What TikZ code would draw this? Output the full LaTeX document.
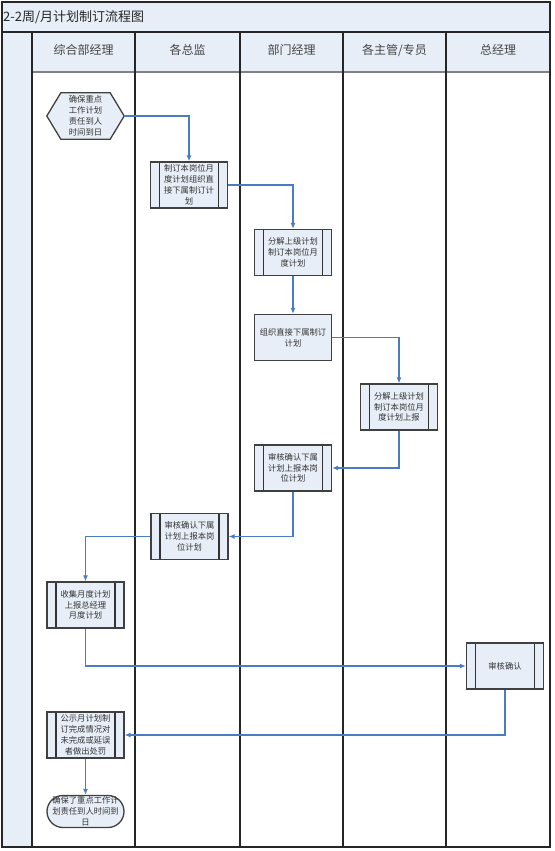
\documentclass[tikz,border=0pt]{standalone}
\usepackage{fontspec}
\newfontfamily\cjk{Noto Sans CJK SC}
\usetikzlibrary{shapes.misc,arrows.meta}
\definecolor{fillb}{HTML}{E8EEF7}
\definecolor{arrowb}{HTML}{4A7CC4}
\definecolor{txt}{HTML}{333333}
\definecolor{hdr}{HTML}{444444}
\tikzset{
  frame/.style={draw=black!85, line width=1.4pt},
  boxbase/.style={draw=black!75, line width=1.3pt, fill=fillb, minimum width=77pt, minimum height=46pt,
    inner sep=0pt, align=center, text=txt, font=\cjk\fontsize{8.3}{10.8}\selectfont},
  ppbox/.style={boxbase, path picture={
      \draw[black!80, line width=1.1pt] ([xshift=9pt]path picture bounding box.north west) -- ([xshift=9pt]path picture bounding box.south west);
      \draw[black!80, line width=1.1pt] ([xshift=-9pt]path picture bounding box.north east) -- ([xshift=-9pt]path picture bounding box.south east);}},
  plainbox/.style={boxbase},
  termbox/.style={boxbase, rectangle, rounded corners=16pt, minimum height=32pt},
  conn/.style={draw=arrowb, line width=1.1pt, -{Latex[length=6pt,width=5pt]}},
  lanelbl/.style={font=\cjk\fontsize{12}{14}\selectfont, text=hdr}
}
\begin{document}
\begin{tikzpicture}[x=1pt,y=-1pt]
\useasboundingbox (0,0) rectangle (554,851);
% backgrounds
\fill[fillb] (2,2) rectangle (550,72);
\fill[fillb] (2,72) rectangle (32,847);
\draw[gray, line width=2pt] (32,72) -- (550,72);
\draw[frame] (2,32) -- (550,32);
\foreach \x in {32,135,240,343,446} \draw[frame] (\x,32) -- (\x,847);
\draw[frame] (2,2) rectangle (550,847);
% title and lane labels
\node[anchor=west, inner sep=0pt, font=\cjk\fontsize{13}{15}\selectfont, text=black!85] (title) at (3,17) {2-2周/月计划制订流程图};
\node[lanelbl] (l1) at (83.5,50) {综合部经理};
\node[lanelbl] (l2) at (187.5,50) {各总监};
\node[lanelbl] (l3) at (291.5,50) {部门经理};
\node[lanelbl] (l4) at (394.5,50) {各主管/专员};
\node[lanelbl] (l5) at (498,50) {总经理};
% hexagon start
\node[minimum width=77pt, minimum height=46pt, inner sep=0pt] (hex) at (85.5,116) {};
\path[draw=black!75, line width=1.3pt, fill=fillb] (hex.west) -- ([xshift=14pt]hex.north west) -- ([xshift=-14pt]hex.north east)
  -- (hex.east) -- ([xshift=-14pt]hex.south east) -- ([xshift=14pt]hex.south west) -- cycle;
\node[align=center, text=txt, font=\cjk\fontsize{8.3}{10.8}\selectfont, inner sep=0pt] (hext) at (hex.center) {确保重点\\工作计划\\责任到人\\时间到日};
% process boxes
\node[ppbox] (b1) at (189,185) {制订本岗位月\\度计划组织直\\接下属制订计\\划};
\node[ppbox] (b2) at (293,252.5) {分解上级计划\\制订本岗位月\\度计划};
\node[plainbox] (b3) at (293,337.5) {组织直接下属制订\\计划};
\node[ppbox] (b4) at (399,407) {分解上级计划\\制订本岗位月\\度计划上报};
\node[ppbox] (b5) at (293,468) {审核确认下属\\计划上报本岗\\位计划};
\node[ppbox] (b6) at (189.5,536.5) {审核确认下属\\计划上报本岗\\位计划};
\node[ppbox] (b7) at (85.5,605) {收集月度计划\\上报总经理\\月度计划};
\node[ppbox] (b8) at (505,666) {审核确认};
\node[ppbox] (b9) at (85.5,735) {公示月计划制\\订完成情况对\\未完成或延误\\者做出处罚};
\node[termbox] (term) at (85.5,811.5) {确保了重点工作计\\划责任到人时间到\\日};
% connectors
\draw[conn] (hex.east) -| (b1.north);
\draw[conn] (b1.east) -| (b2.north);
\draw[conn] (b2) -- (b3);
\draw[conn] (b3.east) -| (b4.north);
\draw[conn] (b4.south) |- (b5.east);
\draw[conn] (b5.south) |- (b6.east);
\draw[conn] (b6.west) -| (b7.north);
\draw[conn] (b7.south) |- (b8.west);
\draw[conn] (b8.south) |- (b9.east);
\draw[conn] (b9) -- (term);
\end{tikzpicture}
\end{document}
